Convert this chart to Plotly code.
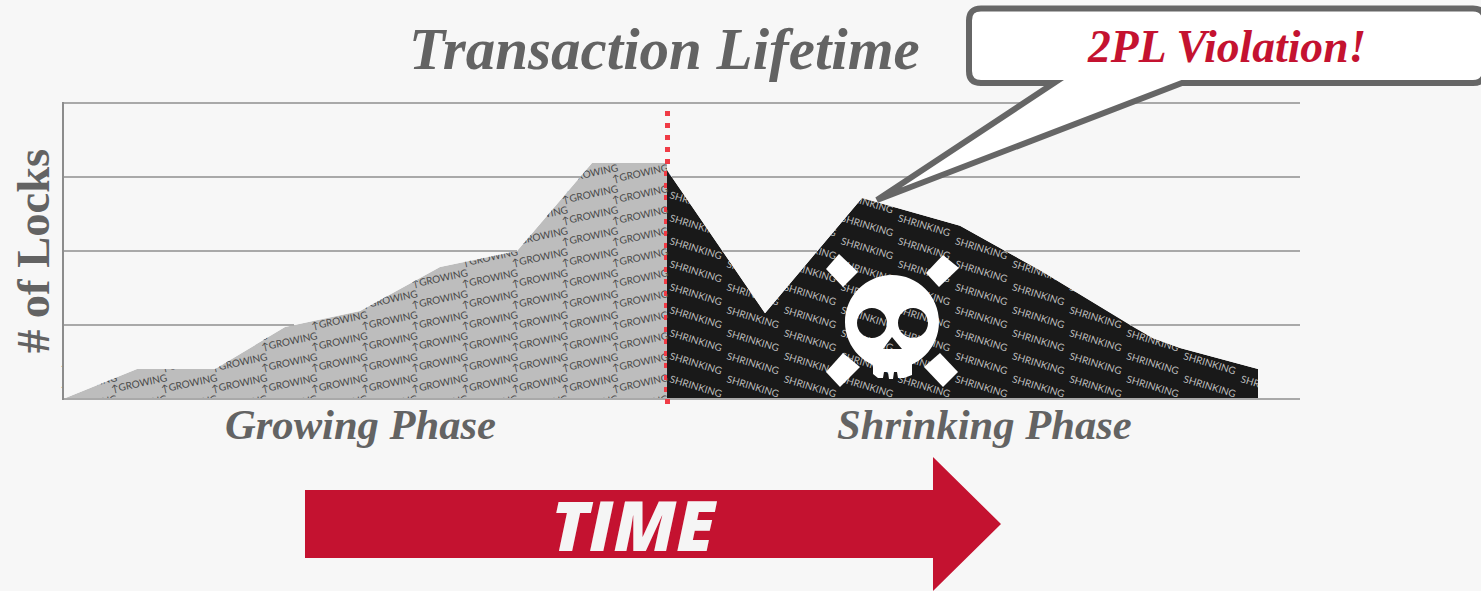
import numpy as np
import plotly.graph_objects as go

W, H = 1481, 591
growing_t = [0, 74, 152, 222, 297, 377, 454, 529, 604]
growing_locks = [0, 0.405, 0.405, 0.973, 1.19, 1.784, 2.0, 3.19, 3.19]
shrinking_t = [604, 702, 799, 897, 977, 1072, 1090, 1117, 1195]
shrinking_locks = [3.095, 1.16, 2.716, 2.34, 1.74, 0.96, 0.82, 0.69, 0.405]
lock_ticks = [0, 1, 2, 3, 4]
title_text = "Transaction Lifetime"
callout_text = "2PL Violation!"
y_label = "# of Locks"
phase_labels = ["Growing Phase", "Shrinking Phase"]
time_label = "TIME"
growing_word = "↑GROWING"
shrinking_word = "SHRINKING"

BG, GREY, BLACK, RED, TXT = "#f7f7f7", "#bdbdbd", "#191919", "#c41230", "#636363"
X0, X1, Y0, Y1 = 63, 1300, 399, 103
UNIT = 74
SERIF = "Liberation Serif"


def paper_x(x):
    return (x - X0) / (X1 - X0)


def paper_y(y):
    return (Y0 - y) / (Y0 - Y1)


def p(a, b):
    return f"{paper_x(a):.5f},{paper_y(b):.5f}"


def pth(points):
    return "M" + " L".join(p(a, b) for a, b in points) + " Z"


def circle(cx, cy, r):
    k = 0.5523 * r
    pts = [
        (cx + r, cy), (cx + r, cy + k), (cx + k, cy + r), (cx, cy + r),
        (cx - k, cy + r), (cx - r, cy + k), (cx - r, cy), (cx - r, cy - k),
        (cx - k, cy - r), (cx, cy - r), (cx + k, cy - r), (cx + r, cy - k), (cx + r, cy),
    ]
    q = [p(a, b) for a, b in pts]
    return f"M{q[0]} C{q[1]} {q[2]} {q[3]} C{q[4]} {q[5]} {q[6]} C{q[7]} {q[8]} {q[9]} C{q[10]} {q[11]} {q[12]} Z"


shapes = []


def words(word, cx0, cy0, dx, dy, hw, angle, color, xs, ys, size, family, right_limit):
    """Lay a repeating word texture over one area of the chart."""
    x_lo, x_hi = xs[0] + X0, xs[-1] + X0
    cols = np.arange(cx0 % dx, right_limit, dx)
    rows = np.arange(cy0 % dy, Y0 + 9, dy)
    for cx in cols:
        if cx - hw < x_lo - 2:
            continue
        for cy in rows:
            top = min(Y0 - UNIT * np.interp(q, np.array(xs) + X0, ys) for q in (cx - hw, cx, min(cx + hw, x_hi)))
            if cy < top - 22:
                continue
            shapes.append(dict(
                type="rect", xref="paper", yref="paper", layer="above",
                x0=paper_x(cx - hw), x1=paper_x(cx + hw), y0=paper_y(cy - 6), y1=paper_y(cy + 6),
                line=dict(width=0), fillcolor="rgba(0,0,0,0)",
                label=dict(text=word, textangle=angle, textposition="middle center", padding=0,
                           font=dict(family=family, size=size, color=color)),
            ))


words(growing_word, 640, 173, 50.1, 21, 24, -12, "#484848", growing_t, growing_locks, 10, "Lato", 650)
words(shrinking_word, 696, 248, 57.1, 23, 28, 17, "#bcbcbc", shrinking_t, shrinking_locks, 10, "Lato", 1290)

# Mask everything outside the areas so that the word texture is cut to the curve
all_t = growing_t + shrinking_t
all_locks = growing_locks + shrinking_locks
mask = f"M{all_t[0]},{all_locks[0]} " + " ".join(f"L{a},{b}" for a, b in zip(all_t[1:], all_locks[1:]))
mask += f" L{shrinking_t[-1]},0 L{X1 - X0},0 L{X1 - X0},4.2 L0,4.2 Z"
shapes.append(dict(type="path", xref="x", yref="y", layer="above", path=mask, fillcolor=BG, line=dict(width=0)))
shapes.append(dict(type="rect", xref="paper", yref="paper", layer="above",
                   x0=paper_x(55), x1=paper_x(1310), y0=paper_y(399), y1=paper_y(425),
                   fillcolor=BG, line=dict(width=0)))

# Grid lines, only where they are not hidden by the areas
sample_t = np.arange(0, X1 - X0 + 1, 0.5)
upper = np.where(sample_t <= growing_t[-1],
                 np.interp(sample_t, growing_t, growing_locks),
                 np.interp(sample_t, shrinking_t, shrinking_locks, right=0))
for v in lock_ticks:
    yy = Y0 - UNIT * v
    free = (upper <= v) if v > 0 else np.ones_like(upper, bool)
    edges = np.flatnonzero(np.diff(np.r_[0, free.astype(int), 0]))
    for a, b in zip(edges[::2], edges[1::2]):
        shapes.append(dict(type="line", xref="x", yref="paper", layer="above",
                           x0=sample_t[a], x1=sample_t[b - 1], y0=paper_y(yy), y1=paper_y(yy),
                           line=dict(color="#a9a9a9", width=2)))
shapes.append(dict(type="line", xref="paper", yref="paper", layer="above",
                   x0=paper_x(X0), x1=paper_x(X0), y0=paper_y(102), y1=paper_y(400),
                   line=dict(color="#8c8c8c", width=2)))

# Lock-point dotted line
shapes.append(dict(type="line", xref="paper", yref="paper", layer="above",
                   x0=paper_x(667.5), x1=paper_x(667.5), y0=paper_y(111), y1=paper_y(168),
                   line=dict(color="#f03c46", width=5, dash="5px,7px")))
shapes.append(dict(type="line", xref="paper", yref="paper", layer="above",
                   x0=paper_x(665.5), x1=paper_x(665.5), y0=paper_y(171), y1=paper_y(399),
                   line=dict(color="#f03c46", width=3, dash="5px,7px")))
shapes.append(dict(type="line", xref="paper", yref="paper", layer="above",
                   x0=paper_x(667.5), x1=paper_x(667.5), y0=paper_y(399), y1=paper_y(404),
                   line=dict(color="#f03c46", width=5)))

# Skull
skull = circle(892, 322, 47) + " " + circle(872, 323, 15) + " " + circle(913, 323, 15) + " " + pth(
    [(892, 337), (902, 349), (883, 349)])
shapes.append(dict(type="path", xref="paper", yref="paper", layer="above", path=skull,
                   fillcolor="#ffffff", fillrule="evenodd", line=dict(width=0)))
jaw = [(873, 355), (912, 355), (912, 375), (904, 378), (898, 378), (897, 372), (894, 372), (893, 379),
       (889, 379), (888, 372), (884, 372), (883, 378), (878, 378), (873, 374)]
shapes.append(dict(type="path", xref="paper", yref="paper", layer="above", path=pth(jaw),
                   fillcolor="#ffffff", line=dict(width=0)))
for d in (
    [(839, 254), (858, 272), (843, 287), (826, 269)],
    [(943, 255), (959, 268), (939, 287), (926, 273)],
    [(843, 353), (860, 367), (840, 387), (826, 372)],
    [(940, 353), (958, 372), (943, 387), (924, 367)],
):
    shapes.append(dict(type="path", xref="paper", yref="paper", layer="above", path=pth(d),
                       fillcolor="#ffffff", line=dict(width=0)))

# Callout
r = 12
L, R, T, B = 969, 1485, 8.5, 83
bubble = (
    f"M{p(L + r, T)} L{p(R - r, T)} Q{p(R, T)} {p(R, T + r)} L{p(R, B - r)} Q{p(R, B)} {p(R - r, B)} "
    f"L{p(1182, B)} L{p(877, 200)} L{p(1054, B)} L{p(L + r, B)} Q{p(L, B)} {p(L, B - r)} "
    f"L{p(L, T + r)} Q{p(L, T)} {p(L + r, T)} Z"
)
shapes.append(dict(type="path", xref="paper", yref="paper", layer="above", path=bubble,
                   fillcolor="#ffffff", line=dict(color="#666666", width=6)))

# Time arrow
arrow = [(305, 490), (933, 490), (933, 457), (1001, 524), (933, 591), (933, 558), (305, 558)]
shapes.append(dict(type="path", xref="paper", yref="paper", layer="above", path=pth(arrow),
                   fillcolor=RED, line=dict(width=0)))


def note(text, x, y, size, color=TXT, family=SERIF, angle=0, weight="bold", style="italic"):
    return dict(text=text, xref="paper", yref="paper", x=paper_x(x), y=paper_y(y),
                xanchor="center", yanchor="middle", showarrow=False, textangle=angle,
                font=dict(family=family, size=size, color=color, weight=weight, style=style))


annotations = [
    note(title_text, 664, 49, 59),
    note(callout_text, 1226, 46, 45.6, color=RED),
    note(y_label, 33, 251, 46.5, angle=-90, style="normal"),
    note(phase_labels[0], 360, 424, 42.6),
    note(phase_labels[1], 984, 424, 42.6),
    note(time_label, 634, 524, 69, color="#f5f5f5", family="Open Sans", weight=800),
]

fig = go.Figure()
fig.add_trace(go.Scatter(x=growing_t, y=growing_locks, mode="lines", fill="tozeroy",
                         fillcolor=GREY, line=dict(width=0), hoverinfo="skip"))
fig.add_trace(go.Scatter(x=shrinking_t, y=shrinking_locks, mode="lines", fill="tozeroy",
                         fillcolor=BLACK, line=dict(width=0), hoverinfo="skip"))
fig.update_layout(
    width=W, height=H, autosize=False, showlegend=False,
    margin=dict(l=X0, r=W - X1, t=Y1, b=H - Y0, pad=0),
    paper_bgcolor=BG, plot_bgcolor=BG, shapes=shapes, annotations=annotations,
    xaxis=dict(range=[0, X1 - X0], visible=False, showgrid=False, zeroline=False),
    yaxis=dict(range=[lock_ticks[0], lock_ticks[-1]], tickvals=lock_ticks, showticklabels=False,
               ticks="", showgrid=False, zeroline=False),
)
fig.write_html("out.html", config=dict(displayModeBar=False),
               post_script="document.documentElement.style.overflow='hidden';document.body.style.margin='0';document.body.style.background='#f7f7f7';")
